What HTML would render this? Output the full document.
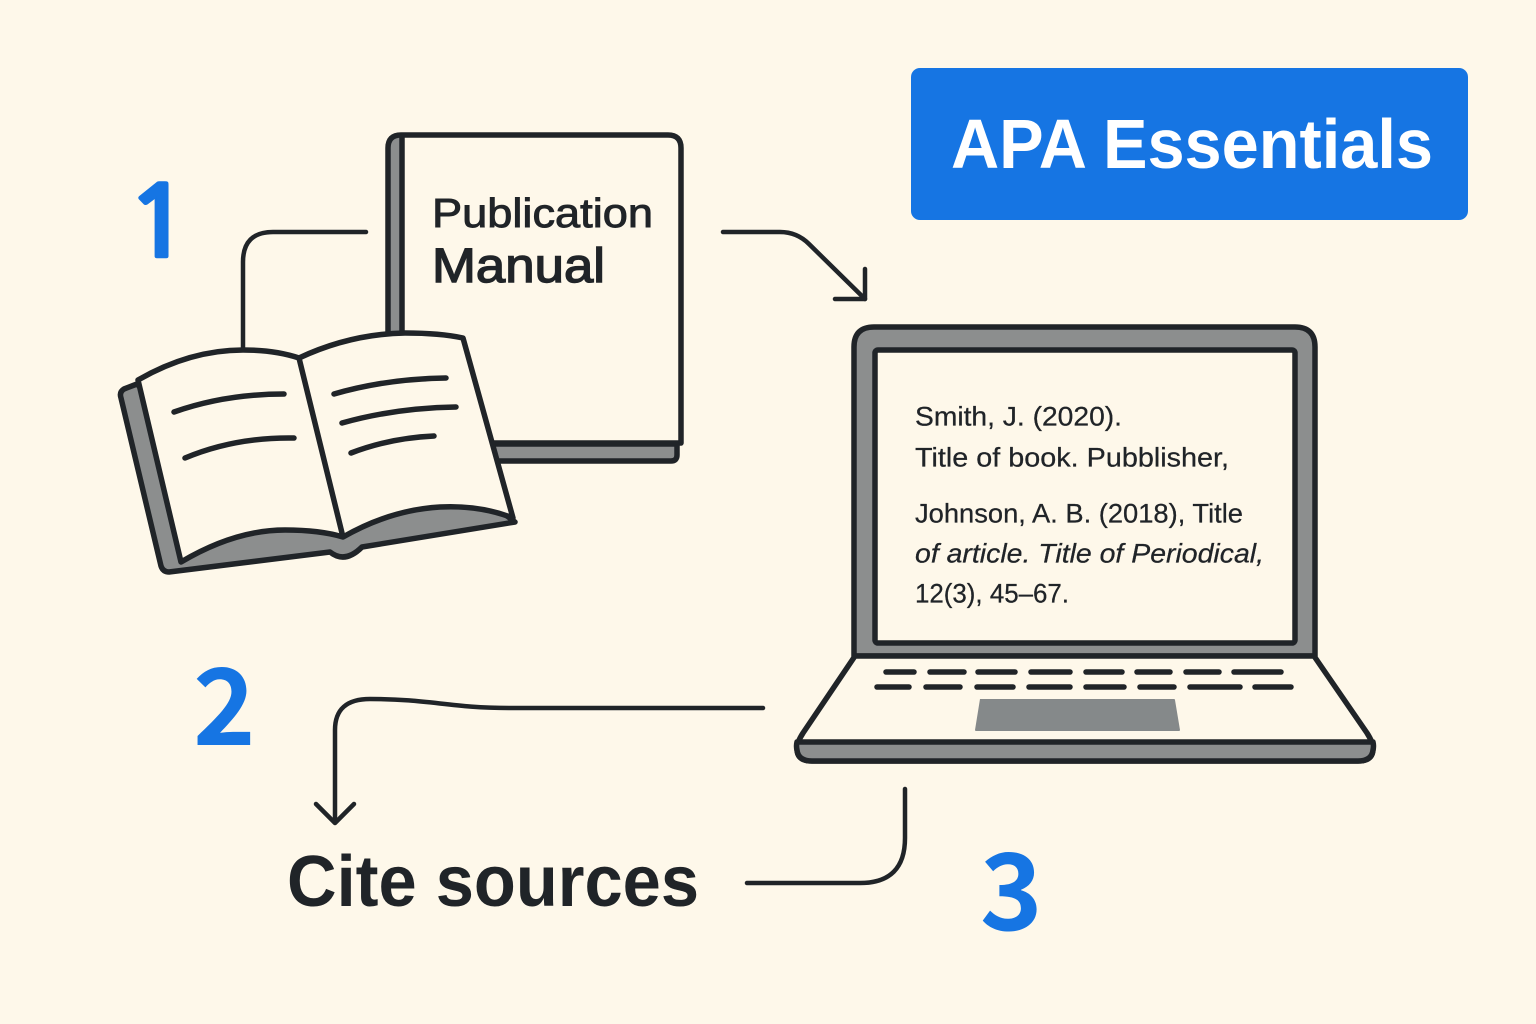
<!DOCTYPE html>
<html>
<head>
<meta charset="utf-8">
<style>
html,body{margin:0;padding:0;background:#fef8ea;}
svg{display:block;}
text{font-family:"Liberation Sans",sans-serif;}
.num{font-family:"Noto Sans CJK JP","Liberation Sans",sans-serif;}
.one{font-family:"NanumGothic","Noto Sans CJK JP",sans-serif;}
</style>
</head>
<body>
<svg width="1536" height="1024" viewBox="0 0 1536 1024" xmlns="http://www.w3.org/2000/svg">
<rect width="1536" height="1024" fill="#fef8ea"/>

<!-- Title box -->
<rect x="911" y="68" width="557" height="152" rx="9" fill="#1675e3"/>
<text x="951" y="168" font-size="70" font-weight="700" fill="#fff" textLength="482" lengthAdjust="spacingAndGlyphs">APA Essentials</text>

<!-- Numbers -->
<text class="one" transform="translate(124.5 257) scale(1.15 1)" font-size="99" font-weight="700" fill="#1675e3" stroke="#1675e3" stroke-width="1.5">1</text>
<text class="num" x="193" y="745" font-size="106" font-weight="700" fill="#1675e3">2</text>
<text class="num" x="980" y="930" font-size="106" font-weight="700" fill="#1675e3">3</text>

<g fill="none" stroke="#202428" stroke-width="5.5" stroke-linecap="round" stroke-linejoin="round">
<!-- Closed book -->
<path d="M490 444 H677 V455 Q677 461 671 461 H490 Z" fill="#8c8e8e"/>
<path d="M388 345 V148 Q388 135 401 135 H668 Q681 135 681 148 V443 H490 V345 Z" fill="#fef8ea" stroke="none"/>
<path d="M388 345 V148 Q388 135 401 135 V345 Z" fill="#8c8e8e" stroke="none"/>
<path d="M388 345 V148 Q388 135 401 135 H668 Q681 135 681 148 V443 H490"/>
<path d="M402 136 V340"/>

<!-- Connector 1 -->
<path d="M243 348 V262 Q243 232 273 232 H366" stroke-width="4.5"/>
<!-- Arrow book to laptop -->
<path d="M723 232 H780 Q797 232 809 244 L865 299" stroke-width="4.5"/>
<path d="M835 299 H865 V269" stroke-width="4.5"/>

<!-- Open book: cover -->
<path d="M137 384 L124 389 Q119 392 121 398 L161 566 Q163 572 169 572 L330 552 Q345 564 362 547 L515 522 L460 480 L200 450 Z" fill="#8c8e8e"/>
<!-- Open book: pages -->
<path d="M138 380 Q190 350 243 350 Q275 350 299 358 Q350 334 405 333 Q440 333 463 338 L513 518 Q480 505 440 507 Q390 510 343 537 Q320 530 285 530 Q235 530 181 562 Z" fill="#fef8ea"/>
<path d="M299 358 L342 533"/>
<path d="M174 412 Q225 394 284 394"/>
<path d="M185 458 Q235 437 294 438"/>
<path d="M334 394 Q385 379 446 378"/>
<path d="M342 423 Q395 408 456 407"/>
<path d="M351 453 Q390 438 434 436"/>

<!-- Laptop screen -->
<path d="M854 656 V347 Q854 327 874 327 H1295 Q1315 327 1315 347 V656 Z" fill="#8c8e8e"/>
<rect x="875" y="350" width="420" height="293" rx="3" fill="#fef8ea"/>
<!-- Laptop base -->
<path d="M855 656 H1314 L1367 733 Q1374 744 1373 750 Q1372 761 1358 761 H812 Q798 761 797 750 Q796 744 803 733 Z" fill="#fef8ea"/>
<path d="M797 742 H1373 Q1374 746 1373 750 Q1372 761 1358 761 H812 Q798 761 797 750 Q796 746 797 742 Z" fill="#8c8e8e"/>
<path d="M886 672 H914 M930 672 H964 M978 672 H1015 M1031 672 H1070 M1086 672 H1122 M1137 672 H1170 M1186 672 H1219 M1234 672 H1281"/>
<path d="M877 687 H909 M926 687 H960 M977 687 H1013 M1029 687 H1070 M1086 687 H1124 M1140 687 H1174 M1190 687 H1240 M1255 687 H1291"/>
<path d="M980 699 H1174 Q1175 699 1175 700 L1180 730 Q1180 731 1179 731 H976 Q975 731 975 730 Z" fill="#85898a" stroke="none"/>

<!-- Connector 2 -->
<path d="M763 708 H510 C450 708 430 699 370 699 Q335 699 335 730 V822" stroke-width="4.5"/>
<path d="M316 804 L335 823 L354 804" stroke-width="4.5"/>
<!-- Connector 3 -->
<path d="M747 883 H860 Q905 883 905 838 V789" stroke-width="4.5"/>
</g>

<!-- Manual text -->
<text x="432" y="227" font-size="41" fill="#202428" stroke="#202428" stroke-width=".9" textLength="221" lengthAdjust="spacingAndGlyphs">Publication</text>
<text x="432" y="282" font-size="48" fill="#202428" stroke="#202428" stroke-width="1.4" textLength="173" lengthAdjust="spacingAndGlyphs">Manual</text>

<!-- Screen text -->
<g font-size="27" fill="#202428" stroke="#202428" stroke-width=".25">
<text x="915" y="425.5" textLength="207" lengthAdjust="spacingAndGlyphs">Smith, J. (2020).</text>
<text x="915" y="466.5" textLength="314" lengthAdjust="spacingAndGlyphs">Title of book. Pubblisher,</text>
<text x="915" y="522.5" textLength="328" lengthAdjust="spacingAndGlyphs">Johnson, A. B. (2018), Title</text>
<text x="915" y="562.5" font-style="italic" textLength="349" lengthAdjust="spacingAndGlyphs">of article. Title of Periodical,</text>
<text x="915" y="602.5" textLength="154" lengthAdjust="spacingAndGlyphs">12(3), 45–67.</text>
</g>

<!-- Cite sources -->
<text x="287" y="906" font-size="72" font-weight="700" fill="#202428" textLength="412" lengthAdjust="spacingAndGlyphs">Cite sources</text>
</svg>
</body>
</html>
